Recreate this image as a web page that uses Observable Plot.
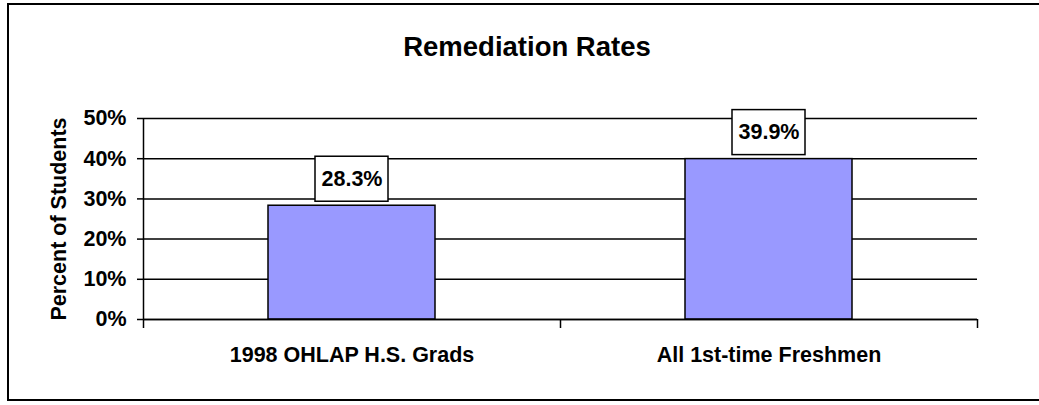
<!DOCTYPE html>
<html>
<head>
<meta charset="utf-8">
<script src="https://cdn.jsdelivr.net/npm/d3@7"></script>
<script src="https://cdn.jsdelivr.net/npm/@observablehq/plot@0.6"></script>
<style>
  html, body { margin: 0; padding: 0; background: #fff; }
  #wrap { position: relative; width: 1039px; height: 405px; overflow: hidden; font-family: "Liberation Sans", Arial, sans-serif; }
  #border { position: absolute; left: 7px; top: 3px; width: 1050px; height: 398px; border: 2px solid #000; box-sizing: border-box; }
  #title { position: absolute; left: 0; top: 33px; width: 1054px; text-align: center; font-size: 27.5px; line-height: 27px; font-weight: bold; color: #000; }
  #chart { position: absolute; left: 0; top: 0; }
</style>
</head>
<body>
<div id="wrap">
  <div id="border"></div>
  <div id="title">Remediation Rates</div>
  <div id="chart"></div>
</div>
<script>
const categories = ["1998 OHLAP H.S. Grads", "All 1st-time Freshmen"];
const values = [0.283, 0.399];
const yTicks = [0, 0.1, 0.2, 0.3, 0.4, 0.5];
const yLabel = "Percent of Students";

const data = categories.map((c, i) => ({category: c, value: values[i]}));

const W = 1039, H = 405;
const mL = 143, mR = 62, mT = 118, mB = 86;
const padIn = 0.6, padOut = 0.3;
const step = (W - mL - mR) / (categories.length - padIn + 2 * padOut);
const fmt = d3.format(".0%");
const fmt1 = d3.format(".1%");
const fs = 21.5;

const chart = Plot.plot({
  width: W,
  height: H,
  marginLeft: mL,
  marginRight: mR,
  marginTop: mT,
  marginBottom: mB,
  style: {fontFamily: "'Liberation Sans', Arial, sans-serif", fontSize: fs + "px", fontWeight: "bold", color: "#000", background: "transparent", overflow: "visible"},
  x: {type: "band", domain: categories, paddingInner: padIn, paddingOuter: padOut},
  y: {domain: [0, 0.5]},
  marks: [
    Plot.gridY(yTicks, {stroke: "#000", strokeOpacity: 1, strokeWidth: 1.5}),
    Plot.axisY({ticks: yTicks, tickFormat: fmt, tickSize: 6, tickPadding: 11, label: null, stroke: "#000", strokeWidth: 1.5, fontSize: fs}),
    Plot.axisX({tickSize: 0, tickPadding: 27, label: null, fontSize: fs}),
    Plot.barY(data, {x: "category", y: "value", fill: "#9999FF", stroke: "#000", strokeWidth: 1.5}),
    // left axis line (extends slightly below zero)
    Plot.ruleX(categories.slice(0, 1), {x: d => d, dx: -step / 2, insetBottom: -9, stroke: "#000", strokeWidth: 1.5}),
    // category boundary ticks below the axis
    Plot.ruleX(categories.slice(1), {x: d => d, dx: -step / 2, y1: 0, y2: 0, insetBottom: -9, stroke: "#000", strokeWidth: 1.5}),
    Plot.ruleX(categories.slice(-1), {x: d => d, dx: step / 2, y1: 0, y2: 0, insetBottom: -9, stroke: "#000", strokeWidth: 1.5}),
    Plot.ruleY([0], {stroke: "#000", strokeWidth: 1.5}),
    Plot.barY(data, {x: "category", y1: "value", y2: "value", insetLeft: 47, insetRight: 47, insetTop: -49, insetBottom: 4, fill: "#fff", stroke: "#000", strokeWidth: 1.5}),
    Plot.text(data, {x: "category", y: "value", text: d => fmt1(d.value), dy: -26.5, fontSize: fs, fontWeight: "bold", fill: "#000"}),
    Plot.text([yLabel], {frameAnchor: "left", text: d => d, rotate: -90, textAnchor: "middle", lineAnchor: "middle", dx: -84, fontSize: fs, fontWeight: "bold", fill: "#000"})
  ]
});
document.getElementById("chart").appendChild(chart);
</script>
</body>
</html>
